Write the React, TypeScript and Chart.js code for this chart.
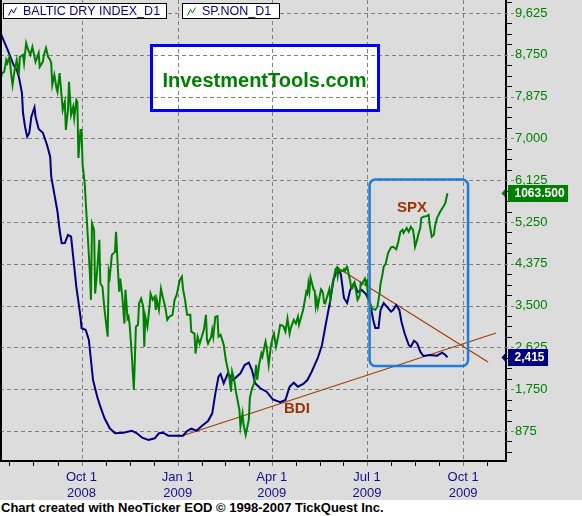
import React, { useEffect, useRef } from "react";
import { Chart, registerables } from "chart.js";

Chart.register(...registerables);

const FONT = "Arial, 'Liberation Sans', sans-serif";

// x = calendar days since 2008-10-01, y = index value
const bdiSeries: [number, number][] = [
  [-77, 9184], [-76, 9128], [-70, 8814], [-65, 8535], [-62, 8431], [-60, 8291], [-57, 7949], [-56, 7531], [-54, 7238], [-52, 7035],
  [-50, 7112], [-48, 7453], [-45, 7650], [-44, 7453], [-41, 7196], [-37, 7118], [-33, 6861], [-30, 6616], [-29, 6198], [-25, 5710],
  [-23, 5465], [-21, 5082], [-19, 4804], [-16, 4810], [-13, 4977], [-10, 4942], [-8, 4523], [-5, 3895], [-1, 3267], [0, 3031],
  [4, 2989], [7, 2780], [9, 2361], [11, 1942], [15, 1593], [18, 1384], [22, 1141], [27, 932], [32, 827], [40, 839],
  [48, 881], [53, 827], [58, 735], [64, 687], [70, 722], [74, 827], [78, 839], [83, 777], [91, 777], [97, 777],
  [101, 875], [105, 923], [110, 881], [115, 980], [121, 1084], [125, 1245], [128, 1664], [131, 2012], [133, 2068], [136, 1873],
  [140, 2083], [145, 1942], [152, 2083], [156, 2256], [160, 2305], [163, 2152], [166, 1873], [171, 1769], [177, 1698], [183, 1538],
  [190, 1476], [195, 1524], [199, 1802], [203, 1886], [207, 1802], [212, 1859], [216, 1942], [220, 2110], [226, 2403], [230, 2675],
  [234, 3156], [238, 3617], [241, 4035], [245, 4287], [248, 4161], [251, 3659], [254, 3554], [257, 3826], [261, 3973], [264, 3784],
  [268, 3826], [272, 3742], [276, 3554], [279, 3198], [281, 3031], [284, 3031], [286, 3408], [289, 3554], [292, 3477], [296, 3372],
  [298, 3408], [301, 3512], [304, 3408], [306, 3163], [309, 2920], [313, 2675], [315, 2639], [318, 2765], [321, 2711], [324, 2535],
  [327, 2445], [333, 2466], [340, 2451], [345, 2514], [348, 2466], [350, 2415],
];

const spxSeries: [number, number][] = [
  [-78, 1242], [-76, 1256], [-74, 1258], [-72, 1277], [-71, 1272], [-69, 1282], [-67, 1250], [-66, 1237], [-64, 1261], [-62, 1277],
  [-60, 1253], [-59, 1282], [-56, 1285], [-55, 1272], [-53, 1304], [-51, 1293], [-49, 1285], [-47, 1298], [-45, 1282], [-44, 1274],
  [-41, 1288], [-40, 1266], [-37, 1274], [-36, 1285], [-34, 1296], [-32, 1282], [-30, 1277], [-29, 1272], [-28, 1237], [-26, 1253],
  [-24, 1232], [-23, 1226], [-21, 1256], [-20, 1237], [-18, 1197], [-16, 1210], [-15, 1165], [-13, 1197], [-12, 1242], [-10, 1189],
  [-8, 1202], [-7, 1184], [-5, 1213], [-4, 1210], [-3, 1120], [-1, 1165], [0, 1165], [1, 1109], [3, 1080], [4, 1050],
  [6, 994], [8, 935], [9, 893], [10, 1015], [12, 1005], [13, 903], [15, 941], [17, 989], [18, 919], [20, 914],
  [22, 877], [25, 834], [26, 938], [27, 930], [29, 965], [32, 970], [33, 1002], [35, 935], [36, 906], [37, 927],
  [39, 898], [41, 855], [42, 909], [44, 863], [45, 866], [46, 853], [48, 807], [50, 749], [51, 797], [52, 850],
  [54, 853], [55, 887], [57, 895], [59, 882], [60, 818], [61, 866], [63, 850], [65, 882], [66, 903], [68, 893],
  [70, 898], [71, 877], [72, 893], [74, 877], [76, 911], [78, 895], [80, 882], [82, 861], [84, 866], [87, 869],
  [89, 893], [91, 901], [94, 925], [96, 930], [97, 911], [99, 893], [101, 869], [104, 869], [105, 842], [108, 839],
  [109, 807], [111, 834], [113, 823], [115, 834], [117, 845], [119, 869], [120, 829], [121, 823], [124, 834], [125, 845],
  [126, 834], [128, 866], [130, 867], [131, 834], [133, 837], [136, 821], [138, 797], [140, 781], [141, 773], [143, 746],
  [144, 778], [146, 765], [148, 743], [151, 717], [152, 690], [154, 711], [155, 693], [157, 677], [160, 701], [161, 736],
  [163, 751], [165, 759], [167, 789], [168, 765], [170, 791], [172, 807], [173, 802], [176, 826], [177, 818], [179, 789],
  [181, 818], [183, 834], [184, 839], [186, 818], [188, 834], [190, 853], [193, 851], [195, 842], [197, 863], [199, 839],
  [200, 847], [203, 861], [205, 855], [207, 866], [208, 853], [212, 877], [215, 906], [216, 903], [217, 919], [218, 907],
  [219, 929], [222, 909], [223, 908], [224, 883], [225, 893], [226, 882], [229, 910], [230, 908], [231, 903], [232, 888],
  [233, 887], [237, 910], [238, 893], [239, 906], [240, 919], [243, 942], [244, 944], [245, 931], [246, 942], [247, 940],
  [250, 939], [251, 942], [252, 939], [253, 944], [254, 946], [257, 923], [258, 911], [259, 911], [260, 918], [261, 921],
  [264, 893], [265, 896], [266, 900], [267, 920], [268, 918], [271, 927], [272, 919], [273, 923], [274, 896], [276, 887],
  [278, 879], [281, 877], [283, 882], [285, 903], [286, 919], [288, 935], [289, 946], [291, 951], [293, 967], [296, 977],
  [298, 978], [301, 974], [303, 986], [305, 1002], [307, 1005], [308, 1000], [311, 1008], [313, 1002], [315, 1010], [317, 1005],
  [318, 994], [319, 978], [321, 989], [322, 997], [324, 1008], [325, 1024], [327, 1026], [330, 1027], [332, 1029], [333, 1013],
  [335, 994], [337, 997], [338, 1010], [340, 1024], [343, 1034], [346, 1042], [348, 1048], [349, 1056], [350, 1063.5],
];

const seriesNames = ["BALTIC DRY INDEX_D1", "SP.NON_D1"];

const quarterDays = [0, 92, 182, 273, 365];
const quarterLabels = [["Oct 1", "2008"], ["Jan 1", "2009"], ["Apr 1", "2009"], ["Jul 1", "2009"], ["Oct 1", "2009"]];
const minorDays = [-69, -46, -23, 23, 46, 69, 115, 137, 160, 205, 228, 250, 296, 319, 342, 388];

const yMajorValues = [875, 1750, 2625, 3500, 4375, 5250, 6125, 7000, 7875, 8750, 9625];
const yMajorLabels = ["875", "1,750", "2,625", "3,500", "4,375", "5,250", "6,125", "7,000", "7,875", "8,750", "9,625"];
const yMinorStep = 218.75;

const X_MIN = -78, X_MAX = 406;
const BDI_MIN = 247, BDI_MAX = 9896;
const SPX_MIN = 635, SPX_MAX = 1373;

// annotations in data coordinates (days, BDI scale)
const trendLines = [
  { x1: 94.2, y1: 760, x2: 396.5, y2: 2926 },
  { x1: 245.3, y1: 4287, x2: 388.8, y2: 2319 },
];
const highlightBox = { x1: 275.5, y1: 6139, x2: 369.7, y2: 2235 };
const textNotes = [
  { text: "SPX", x: 316, y: 5553 },
  { text: "BDI", x: 206, y: 1335 },
];

const GRID_COLOR = "#808080";

const majorYIndex = (v: number) => yMajorValues.findIndex((m) => Math.abs(m - v) < 0.01);

function roundRectPath(ctx: CanvasRenderingContext2D, x: number, y: number, w: number, h: number, r: number) {
  ctx.beginPath();
  ctx.moveTo(x + r, y);
  ctx.lineTo(x + w - r, y);
  ctx.arcTo(x + w, y, x + w, y + r, r);
  ctx.lineTo(x + w, y + h - r);
  ctx.arcTo(x + w, y + h, x + w - r, y + h, r);
  ctx.lineTo(x + r, y + h);
  ctx.arcTo(x, y + h, x, y + h - r, r);
  ctx.lineTo(x, y + r);
  ctx.arcTo(x, y, x + r, y, r);
  ctx.closePath();
}

function legendBox(ctx: CanvasRenderingContext2D, x: number, w: number, color: string, text: string) {
  const y = 3, h = 16;
  ctx.fillStyle = "#ffffff";
  ctx.fillRect(x, y, w, h);
  ctx.strokeStyle = "#000000";
  ctx.lineWidth = 1;
  ctx.strokeRect(x + 0.5, y + 0.5, w - 1, h - 1);
  ctx.strokeStyle = color;
  ctx.beginPath();
  ctx.moveTo(x + 5.5, y + 12.5);
  ctx.lineTo(x + 8.5, y + 6.5);
  ctx.lineTo(x + 10.5, y + 10);
  ctx.lineTo(x + 13.5, y + 4.5);
  ctx.stroke();
  ctx.fillStyle = "#000080";
  ctx.font = `12.5px ${FONT}`;
  ctx.textAlign = "left";
  ctx.textBaseline = "middle";
  ctx.fillText(text, x + 20, y + h / 2 + 0.5);
}

function valueTag(ctx: CanvasRenderingContext2D, y: number, text: string, bg: string) {
  ctx.font = `bold 12px ${FONT}`;
  const w = ctx.measureText(text).width;
  ctx.fillStyle = bg;
  ctx.beginPath();
  ctx.moveTo(501.5, y);
  ctx.lineTo(505, y - 4);
  ctx.lineTo(505, y + 4);
  ctx.closePath();
  ctx.fill();
  const top = Math.round(y - 8.5);
  ctx.fillRect(508, top, w + 10, 17);
  ctx.fillStyle = "#ffffff";
  ctx.textAlign = "left";
  ctx.textBaseline = "middle";
  ctx.fillText(text, 514.5, top + 9);
}

function drawGrid(chart: any) {
  const { ctx, chartArea } = chart;
  const xs = chart.scales.x, ys = chart.scales.y;
  ctx.save();
  ctx.strokeStyle = GRID_COLOR;
  ctx.lineWidth = 1;
  ctx.setLineDash([4, 3]);
  ctx.beginPath();
  for (const d of quarterDays) {
    const px = Math.round(xs.getPixelForValue(d)) + 0.5;
    ctx.moveTo(px, chartArea.top);
    ctx.lineTo(px, chartArea.bottom + 7);
  }
  for (const v of yMajorValues) {
    const py = Math.round(ys.getPixelForValue(v)) + 0.5;
    ctx.moveTo(chartArea.left, py);
    ctx.lineTo(chartArea.right + 8, py);
  }
  ctx.stroke();
  ctx.setLineDash([]);
  ctx.strokeStyle = "#000000";
  ctx.beginPath();
  for (const d of minorDays) {
    const px = Math.round(xs.getPixelForValue(d)) + 0.5;
    ctx.moveTo(px, chartArea.bottom);
    ctx.lineTo(px, chartArea.bottom + 5);
  }
  for (let v = yMinorStep * 2; v < BDI_MAX; v += yMinorStep) {
    if (majorYIndex(v) >= 0) continue;
    const py = Math.round(ys.getPixelForValue(v)) + 0.5;
    ctx.moveTo(chartArea.right, py);
    ctx.lineTo(chartArea.right + 6, py);
  }
  ctx.stroke();
  ctx.restore();
}

const decorPlugin = {
  id: "decor",
  beforeDraw(chart: any) {
    const { ctx, width, height } = chart;
    ctx.save();
    ctx.fillStyle = "#dcdcdc";
    ctx.fillRect(0, 0, width, height);
    ctx.fillStyle = "#ffffff";
    ctx.fillRect(150, 44, 230, 68);
    ctx.restore();
  },
  beforeDatasetsDraw(chart: any) {
    drawGrid(chart);
    const { ctx } = chart;
    const xs = chart.scales.x, ys = chart.scales.y;
    ctx.save();
    ctx.strokeStyle = "#a0400a";
    ctx.lineWidth = 1.2;
    for (const t of trendLines) {
      ctx.beginPath();
      ctx.moveTo(xs.getPixelForValue(t.x1), ys.getPixelForValue(t.y1));
      ctx.lineTo(xs.getPixelForValue(t.x2), ys.getPixelForValue(t.y2));
      ctx.stroke();
    }
    ctx.restore();
  },
  afterDatasetsDraw(chart: any) {
    const { ctx } = chart;
    const xs = chart.scales.x, ys = chart.scales.y;
    ctx.save();
    const bx1 = xs.getPixelForValue(highlightBox.x1);
    const bx2 = xs.getPixelForValue(highlightBox.x2);
    const by1 = ys.getPixelForValue(highlightBox.y1);
    const by2 = ys.getPixelForValue(highlightBox.y2);
    ctx.strokeStyle = "#1f7bdc";
    ctx.lineWidth = 2.5;
    roundRectPath(ctx, bx1, by1, bx2 - bx1, by2 - by1, 6);
    ctx.stroke();
    ctx.fillStyle = "#993300";
    ctx.font = `bold 15px ${FONT}`;
    ctx.textAlign = "center";
    ctx.textBaseline = "middle";
    for (const n of textNotes) {
      ctx.fillText(n.text, xs.getPixelForValue(n.x), ys.getPixelForValue(n.y));
    }
    ctx.restore();
  },
  afterDraw(chart: any) {
    const { ctx } = chart;
    const ys = chart.scales.y, ysp = chart.scales.ySpx;
    ctx.save();
    ctx.fillStyle = "#000000";
    ctx.fillRect(0, 0, 2, 462);
    ctx.strokeStyle = "#0000ff";
    ctx.lineWidth = 3;
    ctx.strokeRect(151.5, 45.5, 227, 65);
    ctx.fillStyle = "#008000";
    ctx.font = `bold 20px ${FONT}`;
    ctx.textAlign = "center";
    ctx.textBaseline = "alphabetic";
    ctx.fillText("InvestmentTools.com", 264.5, 86.5);
    legendBox(ctx, 3, 164, "#000080", seriesNames[0]);
    legendBox(ctx, 182, 98, "#008000", seriesNames[1]);
    const lastSpx = spxSeries[spxSeries.length - 1][1];
    const lastBdi = bdiSeries[bdiSeries.length - 1][1];
    valueTag(ctx, ysp.getPixelForValue(lastSpx), lastSpx.toFixed(3), "#008000");
    valueTag(ctx, ys.getPixelForValue(lastBdi), lastBdi.toLocaleString("en-US"), "#000080");
    ctx.restore();
  },
};

export default function App() {
  const ref = useRef<HTMLCanvasElement>(null);
  useEffect(() => {
    document.body.style.margin = "0";
    const canvas = ref.current;
    if (!canvas) return;
    const chart = new Chart(canvas, {
      type: "line",
      data: {
        datasets: [
          {
            label: seriesNames[1],
            data: spxSeries.map(([x, y]) => ({ x, y })),
            yAxisID: "ySpx",
            borderColor: "#008000",
            borderWidth: 2,
            pointRadius: 0,
            tension: 0,
            fill: false,
            order: 0,
          },
          {
            label: seriesNames[0],
            data: bdiSeries.map(([x, y]) => ({ x, y })),
            yAxisID: "y",
            borderColor: "#000080",
            borderWidth: 2,
            pointRadius: 0,
            tension: 0,
            fill: false,
            order: 1,
          },
        ],
      },
      options: {
        responsive: false,
        animation: false,
        devicePixelRatio: 1,
        events: [],
        layout: { padding: 0 },
        plugins: { legend: { display: false }, tooltip: { enabled: false }, title: { display: false } },
        scales: {
          x: {
            type: "linear",
            position: "bottom",
            min: X_MIN,
            max: X_MAX,
            afterBuildTicks: (s: any) => {
              s.ticks = quarterDays.map((v) => ({ value: v }));
            },
            afterFit: (s: any) => {
              s.height = 39;
              s.paddingLeft = 0;
              s.paddingRight = 0;
            },
            ticks: {
              autoSkip: false,
              maxRotation: 0,
              minRotation: 0,
              padding: 4,
              color: "#10108c",
              font: { family: FONT, size: 13, lineHeight: 1.23 },
              callback: (v: any) => {
                const i = quarterDays.indexOf(v);
                return i >= 0 ? quarterLabels[i] : "";
              },
            },
            grid: { display: false, drawTicks: true, tickLength: 4 },
            border: { display: true, color: "#000000", width: 2 },
          },
          y: {
            type: "linear",
            position: "right",
            min: BDI_MIN,
            max: BDI_MAX,
            afterBuildTicks: (s: any) => {
              s.ticks = yMajorValues.map((v) => ({ value: v }));
            },
            afterFit: (s: any) => {
              s.width = 76;
              s.paddingTop = 0;
              s.paddingBottom = 0;
            },
            ticks: {
              autoSkip: false,
              padding: 3,
              color: "#008000",
              font: { family: FONT, size: 13 },
              callback: (v: any) => {
                const i = majorYIndex(v);
                return i >= 0 ? yMajorLabels[i] : "";
              },
            },
            grid: { display: false, drawTicks: true, tickLength: 6 },
            border: { display: true, color: "#000000", width: 2 },
          },
          ySpx: {
            type: "linear",
            display: false,
            position: "right",
            min: SPX_MIN,
            max: SPX_MAX,
          },
        },
      } as any,
      plugins: [decorPlugin],
    });
    return () => chart.destroy();
  }, []);

  return (
    <div style={{ width: 582, height: 516, background: "#ffffff" }}>
      <canvas ref={ref} width={582} height={500} style={{ display: "block", width: 582, height: 500 }} />
      <div
        style={{
          width: 582,
          height: 16,
          background: "#ffffff",
          color: "#000000",
          font: `bold 13px ${FONT}`,
          lineHeight: "16px",
          paddingLeft: 1,
          whiteSpace: "nowrap",
          boxSizing: "border-box",
        }}
      >
        Chart created with NeoTicker EOD © 1998-2007 TickQuest Inc.
      </div>
    </div>
  );
}
